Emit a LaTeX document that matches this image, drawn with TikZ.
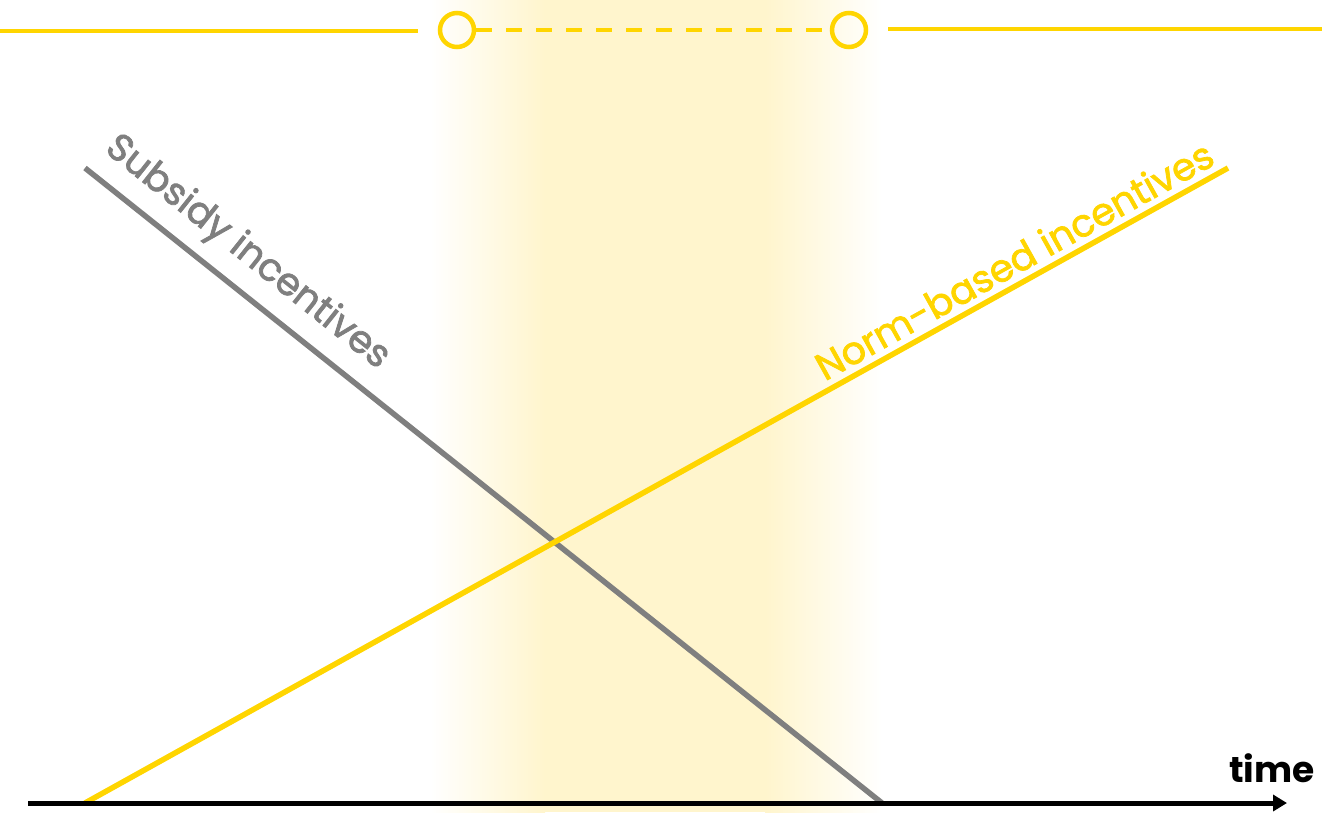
\documentclass[tikz,border=0pt]{standalone}
\usepackage{fontspec}
\setmainfont{Poppins}
\newfontfamily\lblfont{Poppins}[FakeBold=2]
\usetikzlibrary{arrows.meta}
\definecolor{gold}{HTML}{FFD500}
\definecolor{band}{HTML}{FFF5CD}
\definecolor{slate}{HTML}{7F7F7F}
\tikzset{
  goldline/.style={draw=gold, line width=4.5pt},
  trend/.style={line width=5.5pt},
  ring/.style={circle, draw=gold, line width=4.5pt, minimum size=34pt, inner sep=0pt},
  lbl/.style={font=\lblfont\fontsize{38}{38}\selectfont, inner sep=0pt}
}
\begin{document}
\begin{tikzpicture}[x=1pt,y=-1pt]
\useasboundingbox (0,0) rectangle (1322,812);
% band
\shade[left color=white, right color=band] (430,0) rectangle (545,812);
\fill[band] (544,0) rectangle (766,812);
\shade[left color=band, right color=white] (765,0) rectangle (882,812);
% top bar
\node[ring] (c1) at (457,30) {};
\node[ring] (c2) at (849,30) {};
\coordinate (tl) at (0,31);
\coordinate (tle) at (418,31);
\coordinate (tr) at (888,29);
\coordinate (tre) at (1322,29);
\draw[goldline] (tl) -- (tle);
\draw[goldline] (tr) -- (tre);
\draw[goldline, dash pattern=on 16pt off 14pt] (c1.east) -- (c2.west);
% trends
\coordinate (gs) at (85,168);
\coordinate (ge) at (882,803);
\coordinate (ys) at (85,803);
\coordinate (ye) at (1228,168);
\draw[trend, slate] (gs) -- (ge);
\draw[trend, gold] (ys) -- (ye);
% axis
\coordinate (a0) at (28,803);
\coordinate (a1) at (1287,803);
\draw[line width=5pt, -{Triangle[length=14pt,width=16pt]}] (a0) -- (a1);
\node[font=\bfseries\fontsize{36}{36}\selectfont, inner sep=0pt] (time) at (1272,768) {time};
% labels
\node[lbl, text=slate, rotate=-38.5] (sub) at (247,253) {Subsidy incentives};
\node[lbl, text=gold, rotate=29.06] (norm) at (1014,260) {Norm-based incentives};
\end{tikzpicture}
\end{document}
